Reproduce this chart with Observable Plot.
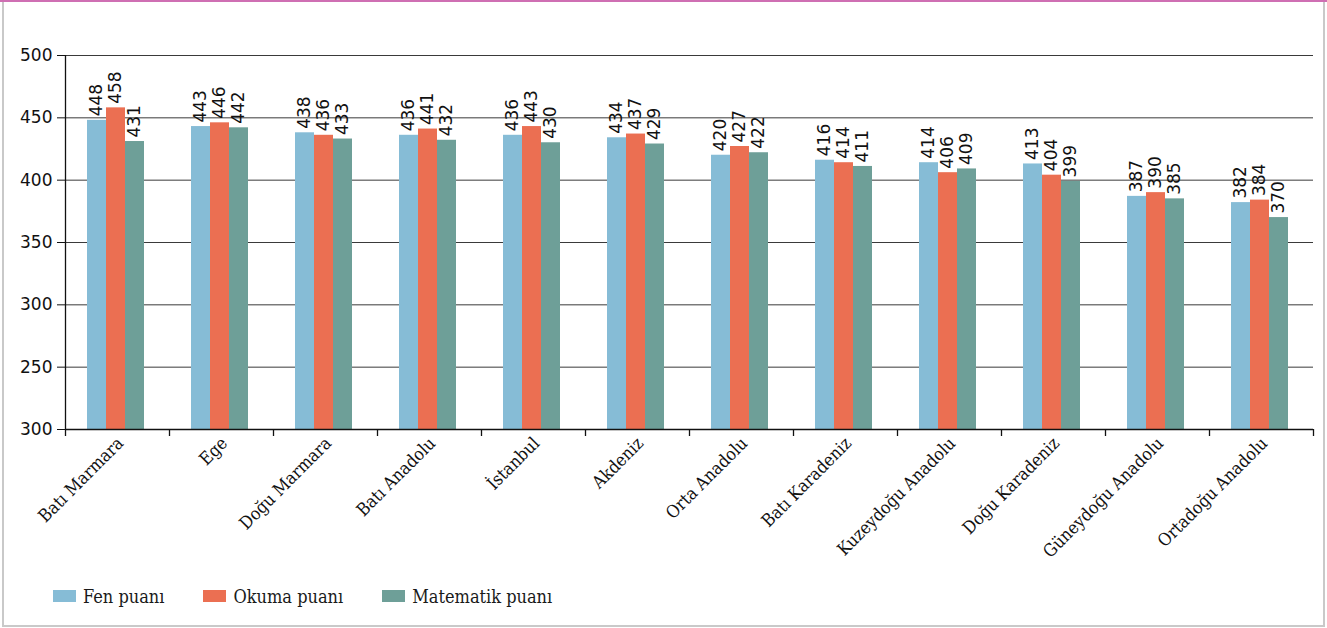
<!DOCTYPE html>
<html>
<head>
<meta charset="utf-8">
<script src="https://cdn.jsdelivr.net/npm/d3@7"></script>
<script src="https://cdn.jsdelivr.net/npm/@observablehq/plot@0.6"></script>
<style>
  html, body { margin: 0; padding: 0; background: #fff; }
  #wrap { position: relative; width: 1327px; height: 628px; overflow: hidden; background: #fff; }
  #frame { position: absolute; left: 2px; top: 0; width: 1323px; height: 627px; box-sizing: border-box;
           border-left: 2px solid #c9c9c9; border-right: 2px solid #c9c9c9; border-bottom: 2px solid #c9c9c9; pointer-events: none; }
  #topline { position: absolute; left: 0; top: 0; width: 1327px; height: 2px; background: #cf6fb3; }
  #chart { position: absolute; left: 0; top: 0; }
  #legend { position: absolute; left: 53px; top: 584px; display: flex; gap: 39px; align-items: center;
            font-family: "DejaVu Serif Condensed", "DejaVu Serif", serif; font-stretch: condensed; font-size: 18px; color: #1a1a1a; }
  #legend .item { display: flex; align-items: center; height: 24px; }
  #legend .sw { width: 23px; height: 12px; margin-right: 7px; }
</style>
</head>
<body>
<div id="wrap">
  <div id="chart"></div>
  <div id="legend"></div>
  <div id="frame"></div>
  <div id="topline"></div>
</div>
<script>
const regions = ["Batı Marmara","Ege","Doğu Marmara","Batı Anadolu","İstanbul","Akdeniz","Orta Anadolu","Batı Karadeniz","Kuzeydoğu Anadolu","Doğu Karadeniz","Güneydoğu Anadolu","Ortadoğu Anadolu"];
const fen       = [448,443,438,436,436,434,420,416,414,413,387,382];
const okuma     = [458,446,436,441,443,437,427,414,406,404,390,384];
const matematik = [431,442,433,432,430,429,422,411,409,399,385,370];
const seriesNames = ["Fen puanı","Okuma puanı","Matematik puanı"];
const seriesColors = ["#86bcd6","#eb6f52","#6e9f98"];
const yTicks = [200,250,300,350,400,450,500];
const yTickLabels = ["300","250","300","350","400","450","500"];

const rows = regions.map((r, i) => ({region: r, fen: fen[i], okuma: okuma[i], matematik: matematik[i]}));
const keys = ["fen","okuma","matematik"];
const insets = [[22,63],[41,44],[60,25]];
const half = 52;

const serif = "'DejaVu Serif Condensed', 'DejaVu Serif', serif";
const sans = "'DejaVu Sans', sans-serif";

const marks = [
  Plot.gridY(yTicks.slice(1), {stroke: "#3a3a3a", strokeOpacity: 1, strokeWidth: 1}),
];
keys.forEach((k, j) => {
  marks.push(Plot.barY(rows, {x: "region", y1: yTicks[0], y2: k, fill: seriesColors[j], insetLeft: insets[j][0], insetRight: insets[j][1]}));
});
keys.forEach((k, j) => {
  const off = (insets[j][0] + (2*half - insets[j][1])) / 2 - half;
  marks.push(Plot.text(rows, {x: "region", y: k, text: d => String(d[k]), rotate: -90, textAnchor: "start", dx: off, dy: -4,
    fontSize: 17, fontFamily: sans, fill: "#111"}));
});
marks.push(
  Plot.ruleY([yTicks[0]], {stroke: "#111", strokeWidth: 1.3}),
  Plot.ruleX([regions[0]], {x: d => d, y1: yTicks[0], y2: yTicks[yTicks.length-1], dx: -half, stroke: "#111", strokeWidth: 1.3}),
  Plot.ruleX(regions, {x: d => d, y1: yTicks[0], y2: yTicks[0], dx: -half, insetBottom: -7, stroke: "#111", strokeWidth: 1.3}),
  Plot.ruleX([regions[regions.length-1]], {x: d => d, y1: yTicks[0], y2: yTicks[0], dx: half, insetBottom: -7, stroke: "#111", strokeWidth: 1.3}),
  Plot.axisY(yTicks, {tickFormat: d => yTickLabels[yTicks.indexOf(d)], tickSize: 8, tickPadding: 5, fontSize: 17, fontFamily: sans, stroke: "#111", color: "#111"}),
  Plot.text(regions, {x: d => d, y: yTicks[0], text: d => d, rotate: -45, textAnchor: "end", dx: 3, dy: 11,
    fontSize: 17.5, fontFamily: serif, fill: "#111"})
);

const chart = Plot.plot({
  width: 1327,
  height: 575,
  marginTop: 55,
  marginBottom: 146,
  marginLeft: 65,
  marginRight: 14,
  style: {background: "transparent", overflow: "visible"},
  x: {domain: regions, padding: 0, axis: null},
  y: {domain: [200, 500], axis: null},
  marks
});
document.getElementById("chart").appendChild(chart);

const legend = document.getElementById("legend");
seriesNames.forEach((n, j) => {
  const it = document.createElement("div");
  it.className = "item";
  const sw = document.createElement("div");
  sw.className = "sw";
  sw.style.background = seriesColors[j];
  const tx = document.createElement("span");
  tx.textContent = n;
  it.appendChild(sw); it.appendChild(tx);
  legend.appendChild(it);
});
</script>
</body>
</html>
